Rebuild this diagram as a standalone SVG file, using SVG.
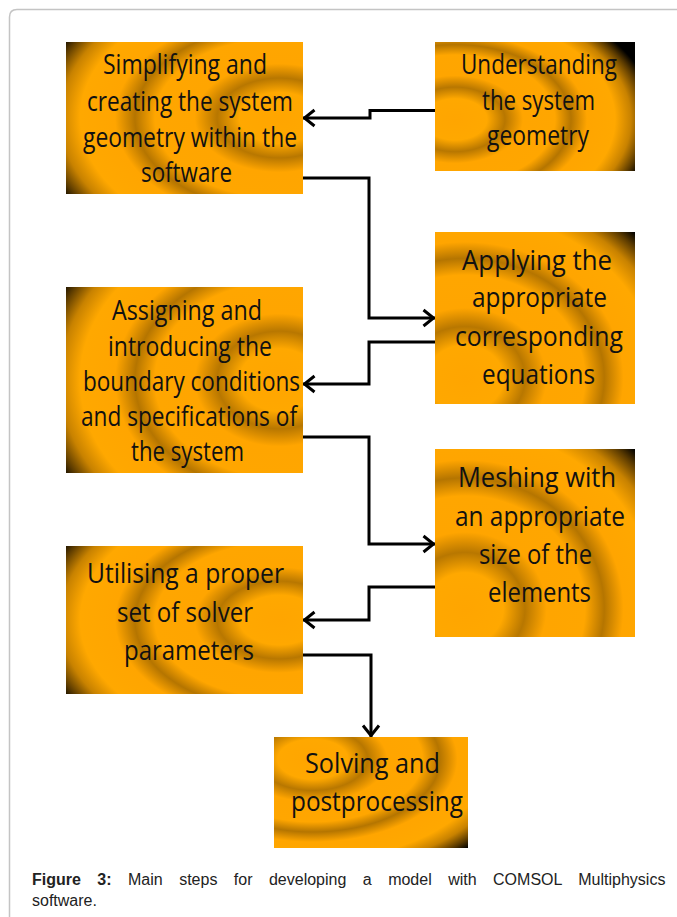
<svg xmlns="http://www.w3.org/2000/svg" width="677" height="917" viewBox="0 0 677 917">
<style>
.box text{font-family:"Open Sans","Noto Sans",sans-serif;font-size:28px;fill:#111}
.conn path{fill:none;stroke:#000;stroke-width:3}
.cap{font-family:"Liberation Sans",Arial,sans-serif;font-size:16px;fill:#222}
</style>
<defs>
<radialGradient id="base">
<stop offset="0" stop-color="#ffa500"/><stop offset="0.16" stop-color="#ffa800"/><stop offset="0.25" stop-color="#b87700"/><stop offset="0.34" stop-color="#ffa500"/><stop offset="0.5" stop-color="#ffa600"/><stop offset="0.58" stop-color="#b57500"/><stop offset="0.66" stop-color="#ffa500"/><stop offset="0.8" stop-color="#ffa800"/><stop offset="0.88" stop-color="#c88200"/><stop offset="0.95" stop-color="#5a3a00"/><stop offset="1" stop-color="#000"/>
</radialGradient>
<radialGradient id="gL" href="#base" cx="0.9" cy="0.5" r="1.05"/>
<radialGradient id="gR" href="#base" cx="0.15" cy="0.85" r="1.2"/>
<radialGradient id="gV" href="#base" cx="0.1" cy="0.6" r="1.0"/>
<radialGradient id="gB" href="#base" cx="0.2" cy="0.2" r="1.13"/>
<marker id="arr" markerUnits="userSpaceOnUse" markerWidth="16" markerHeight="20" viewBox="0 0 16 20" refX="13.5" refY="10" orient="auto">
<path d="M2,2 L12,10 L2,18" fill="none" stroke="#000" stroke-width="3"/>
</marker>
</defs>
<rect width="677" height="917" fill="#fff"/>
<path d="M9.5,917 V17 Q9.5,9.5 17,9.5 H677" fill="none" stroke="#c4c4c4" stroke-width="1.5"/>

<g class="conn">
<path d="M436,110.5 H370 V118 H303" marker-end="url(#arr)"/>
<path d="M303,178 H369 V318 H435" marker-end="url(#arr)"/>
<path d="M435,342 H369 V384 H303" marker-end="url(#arr)"/>
<path d="M303,437 H369 V544 H435" marker-end="url(#arr)"/>
<path d="M435,587 H369 V620 H303" marker-end="url(#arr)"/>
<path d="M303,655 H371 V737" marker-end="url(#arr)"/>
</g>

<g id="n1" class="box">
<rect x="66" y="42" width="237" height="152" fill="url(#gL)"/>
<text x="103" y="74" textLength="164" lengthAdjust="spacingAndGlyphs">Simplifying and</text>
<text x="87" y="111" textLength="206" lengthAdjust="spacingAndGlyphs">creating the system</text>
<text x="83" y="147" textLength="214" lengthAdjust="spacingAndGlyphs">geometry within the</text>
<text x="141" y="182" textLength="91" lengthAdjust="spacingAndGlyphs">software</text>
</g>
<g id="n2" class="box">
<rect x="435" y="42" width="200" height="129" fill="url(#gV)"/>
<text x="461" y="74" textLength="156" lengthAdjust="spacingAndGlyphs">Understanding</text>
<text x="482" y="110" textLength="113" lengthAdjust="spacingAndGlyphs">the system</text>
<text x="487" y="145" textLength="102" lengthAdjust="spacingAndGlyphs">geometry</text>
</g>
<g id="n3" class="box">
<rect x="435" y="232" width="200" height="172" fill="url(#gR)"/>
<text x="462" y="270" textLength="150" lengthAdjust="spacingAndGlyphs">Applying the</text>
<text x="472" y="307" textLength="135" lengthAdjust="spacingAndGlyphs">appropriate</text>
<text x="455" y="346" textLength="168" lengthAdjust="spacingAndGlyphs">corresponding</text>
<text x="482" y="384" textLength="113" lengthAdjust="spacingAndGlyphs">equations</text>
</g>
<g id="n4" class="box">
<rect x="66" y="287" width="237" height="186" fill="url(#gL)"/>
<text x="112" y="320" textLength="150" lengthAdjust="spacingAndGlyphs">Assigning and</text>
<text x="108" y="356" textLength="164" lengthAdjust="spacingAndGlyphs">introducing the</text>
<text x="83" y="391" textLength="217" lengthAdjust="spacingAndGlyphs">boundary conditions</text>
<text x="81" y="426" textLength="216" lengthAdjust="spacingAndGlyphs">and specifications of</text>
<text x="131" y="461" textLength="113" lengthAdjust="spacingAndGlyphs">the system</text>
</g>
<g id="n5" class="box">
<rect x="435" y="449" width="200" height="188" fill="url(#gR)"/>
<text x="458" y="487" textLength="158" lengthAdjust="spacingAndGlyphs">Meshing with</text>
<text x="455" y="526" textLength="170" lengthAdjust="spacingAndGlyphs">an appropriate</text>
<text x="479" y="564" textLength="113" lengthAdjust="spacingAndGlyphs">size of the</text>
<text x="488" y="602" textLength="103" lengthAdjust="spacingAndGlyphs">elements</text>
</g>
<g id="n6" class="box">
<rect x="66" y="546" width="237" height="148" fill="url(#gL)"/>
<text x="87" y="583" textLength="197" lengthAdjust="spacingAndGlyphs">Utilising a proper</text>
<text x="117" y="622" textLength="136" lengthAdjust="spacingAndGlyphs">set of solver</text>
<text x="124" y="660" textLength="130" lengthAdjust="spacingAndGlyphs">parameters</text>
</g>
<g id="n7" class="box">
<rect x="274" y="737" width="194" height="111" fill="url(#gB)"/>
<text x="305" y="773" textLength="135" lengthAdjust="spacingAndGlyphs">Solving and</text>
<text x="291" y="811" textLength="172" lengthAdjust="spacingAndGlyphs">postprocessing</text>
</g>

<g id="caption">
<text class="cap" x="32" y="885" word-spacing="12"><tspan font-weight="bold">Figure 3:</tspan> Main steps for developing a model with COMSOL Multiphysics</text>
<text class="cap" x="32" y="906">software.</text>
</g>
</svg>
